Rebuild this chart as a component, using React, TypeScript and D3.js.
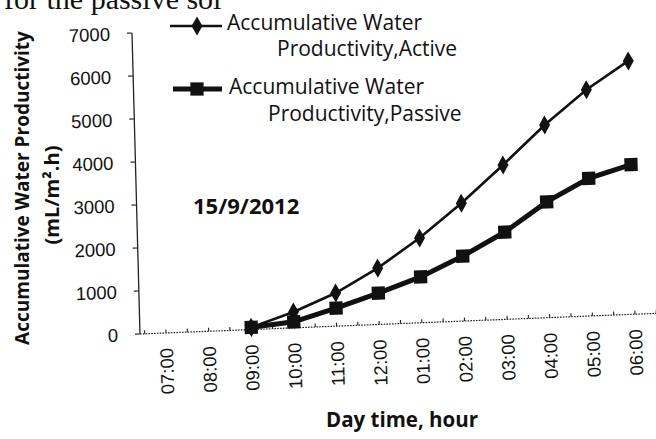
import React from "react";
import * as d3 from "d3";

const categories = ["07:00", "08:00", "09:00", "10:00", "11:00", "12:00", "01:00", "02:00", "03:00", "04:00", "05:00", "06:00"];
const activeValues: (number | null)[] = [null, null, 50, 370, 770, 1310, 1970, 2740, 3590, 4480, 5260, 5890];
const passiveValues: (number | null)[] = [null, null, 50, 140, 420, 730, 1065, 1510, 2030, 2690, 3200, 3480];
const yTicks = [0, 1000, 2000, 3000, 4000, 5000, 6000, 7000];
const legendActive = ["Accumulative Water", "Productivity,Active"];
const legendPassive = ["Accumulative Water", "Productivity,Passive"];
const yTitle = ["Accumulative Water Productivity", "(mL/m\u00B2.h)"];
const xTitle = "Day time, hour";
const dateLabel = "15/9/2012";
const pageText = "for the passive sol";

const W = 656;
const H = 439;
const ORIGIN_X = 140;
const ORIGIN_Y = 334;

export default function App() {
  const x = d3.scalePoint<string>().domain(categories).range([26, 495]);
  const y = d3.scaleLinear().domain([0, 7000]).range([0, -301]);
  const step = x.step();

  const pts = (vals: (number | null)[]) =>
    categories
      .map((c, i) => ({ c, v: vals[i] }))
      .filter((d) => d.v !== null) as { c: string; v: number }[];

  const line = d3
    .line<{ c: string; v: number }>()
    .x((d) => x(d.c) as number)
    .y((d) => y(d.v));

  const diamond = d3.symbol().type(d3.symbolDiamond).size(105)() as string;
  const square = d3.symbol().type(d3.symbolSquare).size(175)() as string;

  const minorTicks = d3.range(0, categories.length * 2 + 2).map((k) => (x(categories[0]) as number) - step / 2 + (k * step) / 2);

  const axisFont = "'Liberation Sans', Arial, sans-serif";
  const textFont = "'Open Sans', 'Noto Sans', sans-serif";

  return (
    <svg width={W} height={H} style={{ position: "absolute", left: 0, top: 0, background: "#fff" }}>
      <rect x={0} y={0} width={W} height={H} fill="#fff" />
      <text x={4} y={9} fontFamily="'Liberation Serif', 'Times New Roman', serif" fontSize={30} fill="#111">
        {pageText}
      </text>

      {/* plot, slightly skewed like the scan */}
      <g transform={`matrix(1,-0.04,0.0266,1,${ORIGIN_X},${ORIGIN_Y})`}>
        {/* x axis */}
        <line x1={0} x2={560} y1={0} y2={0} stroke="#222" strokeWidth={1.2} strokeDasharray="1.6 1.2" />
        {minorTicks.map((t, i) => (
          <line key={i} x1={t} x2={t} y1={0} y2={-3.5} stroke="#222" strokeWidth={1.1} />
        ))}
        {/* y axis */}
        <line x1={0} x2={0} y1={0} y2={y(7000)} stroke="#222" strokeWidth={1.3} />
        {yTicks.map((t) => (
          <g key={t}>
            <line x1={-5} x2={0} y1={y(t)} y2={y(t)} stroke="#222" strokeWidth={1.2} />
            <text x={-22} y={y(t)} dy="0.36em" textAnchor="end" fontFamily={axisFont} fontSize={18.5} fill="#111">
              {t}
            </text>
          </g>
        ))}
        {categories.map((c) => (
          <text
            key={c}
            transform={`translate(${x(c)},15) rotate(-90)`}
            textAnchor="end"
            dy="0.36em"
            fontFamily={axisFont}
            fontSize={18.5}
            fill="#111"
          >
            {c}
          </text>
        ))}

        {/* series */}
        <path d={line(pts(activeValues)) as string} fill="none" stroke="#111" strokeWidth={2.6} />
        {pts(activeValues).map((d) => (
          <path key={d.c} d={diamond} transform={`translate(${x(d.c)},${y(d.v)})`} fill="#111" />
        ))}
        <path d={line(pts(passiveValues)) as string} fill="none" stroke="#111" strokeWidth={5} />
        {pts(passiveValues).map((d) => (
          <path key={d.c} d={square} transform={`translate(${x(d.c)},${y(d.v)})`} fill="#111" />
        ))}
      </g>

      {/* legend */}
      <g>
        <line x1={170} x2={222} y1={26} y2={26} stroke="#111" strokeWidth={2.6} />
        <path d={diamond} transform="translate(197,26)" fill="#111" />
        <text fontFamily={textFont} fontSize={21} fill="#111">
          <tspan x={227} y={30}>{legendActive[0]}</tspan>
          <tspan x={277} y={56}>{legendActive[1]}</tspan>
        </text>
        <line x1={173} x2={222} y1={89} y2={89} stroke="#111" strokeWidth={5} />
        <path d={square} transform="translate(197,89)" fill="#111" />
        <text fontFamily={textFont} fontSize={21} fill="#111">
          <tspan x={229} y={94}>{legendPassive[0]}</tspan>
          <tspan x={268} y={121}>{legendPassive[1]}</tspan>
        </text>
      </g>

      {/* date label */}
      <text x={193} y={214} fontFamily={textFont} fontWeight="bold" fontSize={22} fill="#111">
        {dateLabel}
      </text>

      {/* y title */}
      <text transform="translate(22,188) rotate(-90)" textAnchor="middle" dy="0.36em" fontFamily={textFont} fontWeight="bold" fontSize={19} fill="#111">
        {yTitle[0]}
      </text>
      <text transform="translate(52,195) rotate(-90)" textAnchor="middle" dy="0.36em" fontFamily={textFont} fontWeight="bold" fontSize={20} fill="#111">
        {yTitle[1]}
      </text>

      {/* x title */}
      <text x={402} y={427} textAnchor="middle" fontFamily={textFont} fontWeight="bold" fontSize={20.5} fill="#111">
        {xTitle}
      </text>
    </svg>
  );
}
